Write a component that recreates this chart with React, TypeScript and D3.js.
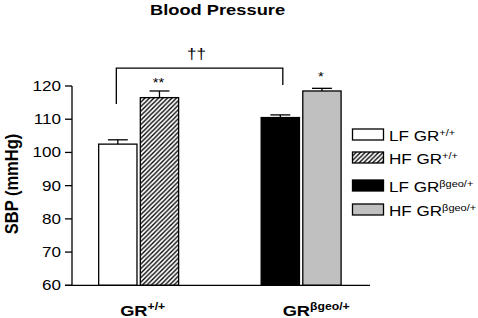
import React from 'react';
import * as d3 from 'd3';

// data
const groups = ['wt', 'het'];
const groupBase = ['GR', 'GR'];
const groupSup = ['+/+', 'βgeo/+'];
const diets = ['LF', 'HF'];
const lfMeans = [102.5, 110.5];
const hfMeans = [116.5, 118.5];
const lfErr = [1.3, 0.8];
const hfErr = [2.0, 0.8];
const yTicks = [60, 70, 80, 90, 100, 110, 120];
const legendLabels = ['LF GR', 'HF GR', 'LF GR', 'HF GR'];
const legendSup = ['+/+', '+/+', 'βgeo/+', 'βgeo/+'];
const legendFills = ['white', 'url(#hatch)', '#000', '#c0c0c0'];
const barFills = [['white', 'url(#hatch)'], ['#000', '#c0c0c0']];
const bracketValues = [114.6, 125.4, 120.3]; // left leg end, top, right leg end
const stars = ['**', '*'];

const W = 478;
const H = 318;
const SX = 1.22; // the figure is stretched horizontally
const FONT = 'Liberation Sans, Arial, Helvetica, sans-serif';

const left = 72;
const right = 370;
const top = 86;
const bottom = 285.3;

const legendTops = [129, 152, 180, 204];

export default function App() {
  const y = d3.scaleLinear().domain([60, 120]).range([bottom, top]);
  const x0 = d3.scaleBand<string>().domain(groups).range([left, right])
    .paddingInner(0.508).paddingOuter(0.171).align(0.48);
  const x1 = d3.scaleBand<string>().domain(diets).range([0, x0.bandwidth()]).paddingInner(0.08);
  const bw = x1.bandwidth();
  const capW = bw * 0.52;

  const bars = groups.flatMap((g, gi) => diets.map((d, di) => {
    const mean = di === 0 ? lfMeans[gi] : hfMeans[gi];
    const err = di === 0 ? lfErr[gi] : hfErr[gi];
    const bx = (x0(g) ?? 0) + (x1(d) ?? 0);
    return { key: g + d, gi, di, mean, err, bx, cx: bx + bw / 2 };
  }));

  const bl = bars[0].cx - 1.5;
  const br = bars[2].cx + 2.5;

  const stretched = (tx: number, ty: number) => `translate(${tx},${ty}) scale(${SX},1)`;

  return (
    <svg width={W} height={H} style={{ position: 'absolute', left: 0, top: 0, background: 'white' }}
      fontFamily={FONT}>
      <defs>
        <pattern id="hatch" patternUnits="userSpaceOnUse" width="4.5" height="4.5">
          <rect width="4.5" height="4.5" fill="white" />
          <path d="M-1,1 l2,-2 M0,4.5 l4.5,-4.5 M3.5,5.5 l2,-2" stroke="#000" strokeWidth="1.35" />
        </pattern>
      </defs>

      {/* title */}
      <g transform={stretched(217.5, 15)}>
        <text textAnchor="middle" fontSize={15} fontWeight="bold">Blood Pressure</text>
      </g>

      {/* y axis */}
      <line x1={left} x2={left} y1={top} y2={bottom} stroke="#000" strokeWidth={1.3} />
      {yTicks.map(t => (
        <g key={t}>
          <line x1={left - 7} x2={left} y1={y(t)} y2={y(t)} stroke="#000" strokeWidth={1.3} />
          <g transform={stretched(61, y(t) + 5)}>
            <text textAnchor="end" fontSize={14}>{t}</text>
          </g>
        </g>
      ))}
      <g transform={`translate(17.5,184) scale(1.1,1) rotate(-90)`}>
        <text textAnchor="middle" fontSize={16.5} fontWeight="bold">SBP (mmHg)</text>
      </g>

      {/* bars */}
      {bars.map(b => (
        <g key={b.key}>
          <line x1={b.cx} x2={b.cx} y1={y(b.mean)} y2={y(b.mean + b.err)} stroke="#000" strokeWidth={1.3} />
          <line x1={b.cx - capW / 2} x2={b.cx + capW / 2} y1={y(b.mean + b.err)} y2={y(b.mean + b.err)}
            stroke="#000" strokeWidth={1.3} />
          <rect x={b.bx} y={y(b.mean)} width={bw} height={bottom - y(b.mean)}
            fill={barFills[b.gi][b.di]} stroke="#000" strokeWidth={1.3} />
        </g>
      ))}

      {/* x axis */}
      <line x1={left - 7} x2={right} y1={bottom} y2={bottom} stroke="#000" strokeWidth={1.3} />
      {groups.map((g, i) => (
        <g key={g} transform={stretched((x0(g) ?? 0) + x0.bandwidth() / 2 - 18.5, 315.5)}>
          <text fontSize={15} fontWeight="bold">
            {groupBase[i]}
            <tspan fontSize={10} dy={-6}>{groupSup[i]}</tspan>
          </text>
        </g>
      ))}

      {/* significance marks */}
      <path d={`M${bl},${y(bracketValues[0])} V${y(bracketValues[1])} H${br} V${y(bracketValues[2])}`}
        fill="none" stroke="#000" strokeWidth={1.3} />
      <g transform={stretched((bl + br) / 2 - 3, 58.5)}>
        <text textAnchor="middle" fontSize={14}>††</text>
      </g>
      {groups.map((g, i) => {
        const b = bars[i * 2 + 1];
        return (
          <g key={g + 'star'} transform={stretched(b.cx - 1, y(b.mean + b.err) - 4 + (i === 1 ? -3 : 0))}>
            <text textAnchor="middle" fontSize={12}>{stars[i]}</text>
          </g>
        );
      })}

      {/* legend */}
      {legendLabels.map((l, i) => (
        <g key={i}>
          <rect x={352.5} y={legendTops[i]} width={31} height={11} fill={legendFills[i]}
            stroke="#000" strokeWidth={1.3} />
          <g transform={stretched(389, legendTops[i] + 12)}>
            <text fontSize={14}>
              {l}
              <tspan fontSize={9} dy={-5.5}>{legendSup[i]}</tspan>
            </text>
          </g>
        </g>
      ))}
    </svg>
  );
}
